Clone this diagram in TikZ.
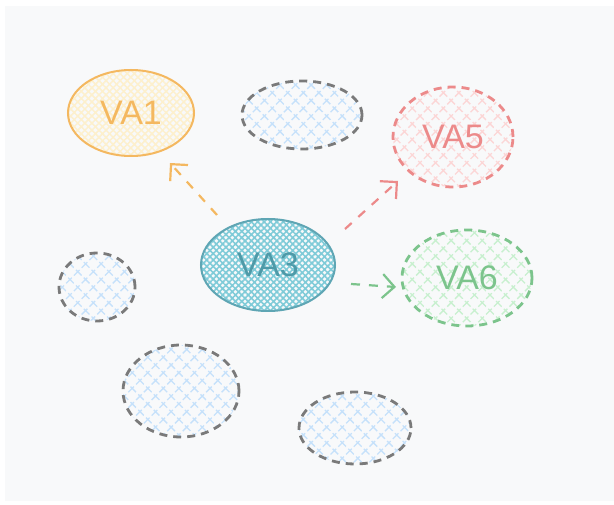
\documentclass[tikz,border=0pt]{standalone}
\usepackage{fontspec}
\setmainfont{Liberation Sans}
\usetikzlibrary{patterns,patterns.meta,arrows.meta,shapes.geometric}
\definecolor{bgc}{HTML}{F8F9FA}
\definecolor{orst}{HTML}{F4B860}
\definecolor{orfl}{HTML}{FCE9B8}
\definecolor{rdst}{HTML}{EC8A8A}
\definecolor{rdfl}{HTML}{FCD6D6}
\definecolor{gnst}{HTML}{7CC48C}
\definecolor{gnfl}{HTML}{C8F0CF}
\definecolor{tlst}{HTML}{5FA6B4}
\definecolor{tlfl}{HTML}{7FCBD8}
\definecolor{tltx}{HTML}{4E9AA8}
\definecolor{gyst}{HTML}{7A7A7A}
\definecolor{blfl}{HTML}{C6E1FA}
\tikzset{
  x=1pt,y=-1pt,
  vnode/.style={ellipse,inner sep=0pt,font=\fontsize{34}{34}\selectfont,line width=2pt},
  hatch/.style={pattern={Hatch[angle=45,distance=11pt,line width=1.3pt]}},
  dsh/.style={dashed,dash pattern=on 8pt off 6pt,line width=2.8pt},
  ghost/.style={vnode,draw=gyst,dsh,hatch,pattern color=blfl},
  conn/.style={line width=2.2pt,dashed,dash pattern=on 9pt off 9pt,-{Straight Barb[length=12pt,width=24pt,line width=2.2pt]}},
}
\begin{document}
\begin{tikzpicture}
\useasboundingbox (0,0) rectangle (614,505);
\fill[white] (0,0) rectangle (614,505);
\fill[bgc] (5,6) rectangle (614,501);
% ghost ellipses
\node[ghost,minimum width=120,minimum height=68] (g1) at (302,115) {};
\node[ghost,minimum width=76,minimum height=68] (g2) at (97,287) {};
\node[ghost,minimum width=116,minimum height=92] (g3) at (181,391) {};
\node[ghost,minimum width=112,minimum height=72] (g4) at (355,428) {};
% VA1
\node[vnode,draw=orst,pattern={Hatch[angle=45,distance=5pt,line width=1.5pt]},pattern color=orfl!70,text=orst,minimum width=126,minimum height=86] (va1) at (131,113) {VA1};
% VA5
\node[vnode,draw=rdst,dsh,hatch,pattern color=rdfl,text=rdst,minimum width=120,minimum height=100] (va5) at (453,137) {VA5};
% VA6
\node[vnode,draw=gnst,dsh,hatch,pattern color=gnfl,text=gnst,minimum width=130,minimum height=96] (va6) at (467,278) {VA6};
% VA3
\node[vnode,draw=tlst,pattern={Hatch[angle=45,distance=4.5pt,line width=1.6pt]},pattern color=tlfl,text=tltx,minimum width=134,minimum height=92] (va3) at (268,265) {VA3};
% connectors
\coordinate (a1s) at (217,215); \coordinate (a1e) at (170,163);
\coordinate (a5s) at (345,229); \coordinate (a5e) at (398,181);
\coordinate (a6s) at (351,284); \coordinate (a6e) at (396,287);
\draw[conn,orst] (a1s) -- (a1e);
\draw[conn,rdst] (a5s) -- (a5e);
\draw[conn,gnst] (a6s) -- (a6e);
\end{tikzpicture}
\end{document}
